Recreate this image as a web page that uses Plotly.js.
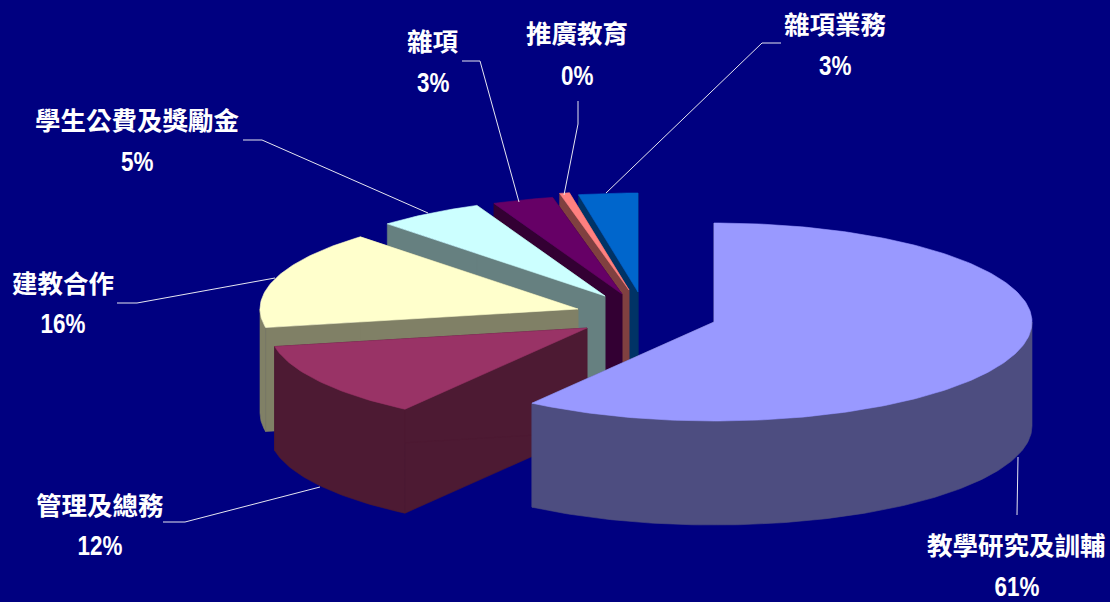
<!DOCTYPE html>
<html>
<head>
<meta charset="utf-8">
<script src="https://cdn.plot.ly/plotly-3.0.1.min.js"></script>
<style>html,body{margin:0;padding:0;background:#000080;overflow:hidden}</style>
</head>
<body>
<div id="chart" style="width:1110px;height:602px"></div>
<script>
// Data, clockwise from twelve o'clock
const categories = ['教學研究及訓輔','管理及總務','建教合作','學生公費及獎勵金','雜項','推廣教育','雜項業務'];
const percentLabels = ['61%','12%','16%','5%','3%','0%','3%'];
// Slice sweep as drawn (per cent of the circle)
const sliceShares = [59.7,12.3,16.0,5.4,3.1,0.5,3.0];

// Styles
const topColors  = ['#9999FF','#993366','#FFFFCC','#CCFFFF','#660066','#FF8080','#0066CC'];
const wallColors = ['#4D4D80','#4D1A33','#808066','#668080','#330033','#804040','#003366'];

// Layout of the exploded slices (screen space = axis space)
const apexX = [714,587,578,605,622,629,638];
const apexY = [322,328,309,296,294,290,292];
const radiusX = 318, radiusY = 99, depth = 104;

const nameX = [1016,100,63,137,433,577,835];
const nameY = [543,503,281,118,39,31,22];
const pctX  = [1017,100,63,137,433,577,835];
const pctY  = [586,545,323,161,82,75,65];

const leaderX = [[1017,1018],[163,185,320],[117,137,275],[243,262,428],[462,480,519],[578,578,564],[781,762,606]];
const leaderY = [[515,457],[522,522,487],[303,303,278],[140,140,213],[61,61,202],[101,124,195],[43,43,193]];

const traces = [];
const total = sliceShares.reduce((a,b)=>a+b,0);
let cum = 0;
const spans = sliceShares.map(v => { const s = cum; cum += v; return [s/total*2*Math.PI, cum/total*2*Math.PI]; });

function rim(i,a0,a1){
  const xs=[], ys=[];
  const n=Math.max(3,Math.ceil((a1-a0)*180/Math.PI));
  for(let k=0;k<=n;k++){
    const a=a0+(a1-a0)*k/n;
    xs.push(apexX[i]+radiusX*Math.sin(a));
    ys.push(apexY[i]-radiusY*Math.cos(a));
  }
  return [xs,ys];
}
function poly(x,y,color,extra){
  traces.push(Object.assign({type:'scatter',mode:'lines',x:x,y:y,fill:'toself',fillcolor:color,
    line:{color:color,width:0.6},hoverinfo:'skip',showlegend:false},extra||{}));
}

// Paint from the back slice to the front slice
for(let i=categories.length-1;i>=0;i--){
  const [a0,a1]=spans[i];
  const [rx,ry]=rim(i,a0,a1);
  const ax=apexX[i], ay=apexY[i], last=rx.length-1;
  const c=wallColors[i];
  // two radial faces
  poly([ax,rx[0],rx[0],ax,ax],[ay,ry[0],ry[0]+depth,ay+depth,ay],c);
  poly([ax,rx[last],rx[last],ax,ax],[ay,ry[last],ry[last]+depth,ay+depth,ay],c);
  // outer rim face: only the arc that faces the viewer (the front half of the ellipse)
  const f0=Math.max(a0,Math.PI/2), f1=Math.min(a1,Math.PI*1.5);
  if(f1>f0){
    const [fx,fy]=rim(i,f0,f1);
    poly(fx.concat(fx.slice().reverse(),[fx[0]]),
         fy.concat(fy.slice().reverse().map(v=>v+depth),[fy[0]]),c);
  }
  // top face
  poly([ax].concat(rx,[ax]),[ay].concat(ry,[ay]),topColors[i],
       {name:categories[i],text:percentLabels[i],hoverinfo:'name+text'});
}
leaderX.forEach((lx,i)=>traces.push({type:'scatter',mode:'lines',x:lx,y:leaderY[i],
  line:{color:'#E6E6F0',width:1},hoverinfo:'skip',showlegend:false}));

const annotations=[];
categories.forEach((c,i)=>{
  annotations.push({x:nameX[i],y:nameY[i],xref:'x',yref:'y',text:'<b>'+c+'</b>',showarrow:false,
    xanchor:'center',yanchor:'middle',font:{family:'"Noto Sans CJK TC"',size:25.5,color:'#FFFFFF'}});
  annotations.push({x:pctX[i],y:pctY[i],xref:'x',yref:'y',text:'<b>'+percentLabels[i]+'</b>',showarrow:false,
    xanchor:'center',yanchor:'middle',font:{family:'"Liberation Sans"',size:28,color:'#FFFFFF'}});
});

function narrowPercents(){
  document.querySelectorAll('.annotation-text').forEach(t=>{
    if(t.textContent.endsWith('%')){
      t.setAttribute('textLength',(t.getComputedTextLength()*0.8).toFixed(1));
      t.setAttribute('lengthAdjust','spacingAndGlyphs');
    }
  });
}
Plotly.newPlot('chart',traces,{
  width:1110,height:602,
  margin:{l:0,r:0,t:0,b:0},
  paper_bgcolor:'#000080',plot_bgcolor:'#000080',
  xaxis:{range:[0,1110],visible:false,fixedrange:true},
  yaxis:{range:[602,0],visible:false,fixedrange:true},
  showlegend:false,
  annotations:annotations
},{displayModeBar:false}).then(narrowPercents);
</script>
</body>
</html>
